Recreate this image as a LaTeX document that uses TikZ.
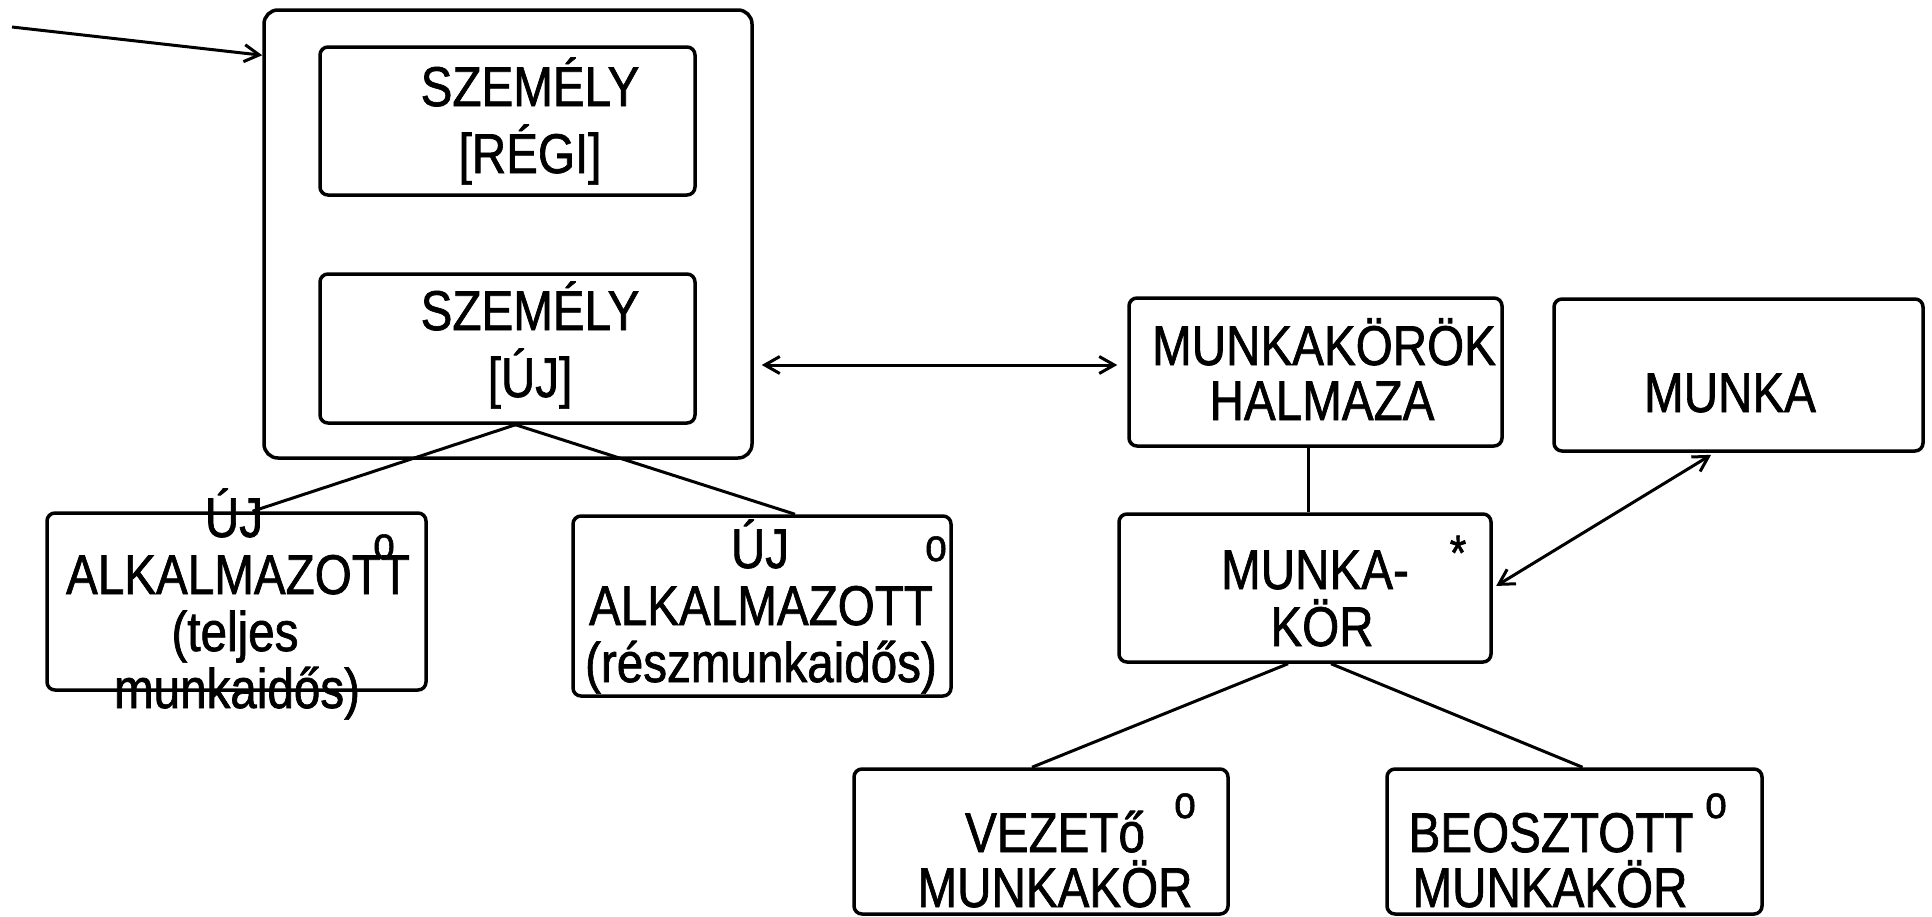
\documentclass[tikz,border=0pt]{standalone}
\usepackage{fontspec}
\setmainfont{Liberation Sans}[FakeStretch=0.85,FakeBold=1.2]
\usetikzlibrary{arrows.meta,calc}
\begin{document}
\begin{tikzpicture}[x=1pt,y=-1pt,
  box/.style={draw, line width=3.5pt, rounded corners=8pt, inner sep=0pt},
  txt/.style={font=\fontsize{56}{58}\selectfont, anchor=base, inner sep=0pt},
  supo/.style={font=\fontsize{46}{46}\selectfont, anchor=base, inner sep=0pt},
  conn/.style={line width=3pt},
  arr/.style={conn, -{Straight Barb[length=15pt,width=17pt]}},
  darr/.style={conn, {Straight Barb[length=15pt,width=17pt]}-{Straight Barb[length=15pt,width=17pt]}}]
\useasboundingbox (0,0) rectangle (1932,916);
% boxes
\node[box, rounded corners=14pt, minimum width=488pt, minimum height=448pt] (outer) at (508,234) {};
\node[box, minimum width=375pt, minimum height=148pt] (regi) at (507.5,121) {};
\node[box, minimum width=375pt, minimum height=149pt] (uj) at (507.5,348.5) {};
\node[box, minimum width=373pt, minimum height=148pt] (halm) at (1315.5,372) {};
\node[box, minimum width=369pt, minimum height=152pt] (munka) at (1738.5,375) {};
\node[box, minimum width=372pt, minimum height=148pt] (mk) at (1305,588) {};
\node[box, minimum width=374pt, minimum height=145pt] (vez) at (1041,841.5) {};
\node[box, minimum width=375pt, minimum height=145pt] (beo) at (1574.5,841.5) {};
\node[box, minimum width=379pt, minimum height=177pt] (ujt) at (236.5,601.5) {};
\node[box, minimum width=378pt, minimum height=180pt] (ujr) at (762,606) {};
% texts
\node[txt] (t1a) at (530,106) {SZEMÉLY};
\node[txt] (t1b) at (530,173) {[RÉGI]};
\node[txt] (t2a) at (530,330) {SZEMÉLY};
\node[txt] (t2b) at (530,397) {[ÚJ]};
\node[txt] (t3a) at (1324,365) {MUNKAKÖRÖK};
\node[txt] (t3b) at (1322,420) {HALMAZA};
\node[txt] (t4) at (1730,412) {MUNKA};
\node[txt] (t5a) at (1315,589) {MUNKA-};
\node[txt] (t5b) at (1322,646) {KÖR};
\node[font=\fontsize{50}{50}\selectfont, anchor=base, inner sep=0pt] (t5s) at (1458,570) {*};
\node[txt] (t6a) at (1055,852) {VEZETő};
\node[txt] (t6b) at (1055,907) {MUNKAKÖR};
\node[supo] (t6s) at (1185,818) {o};
\node[txt] (t7a) at (1551,852) {BEOSZTOTT};
\node[txt] (t7b) at (1550,907) {MUNKAKÖR};
\node[supo] (t7s) at (1716,818) {o};
\node[txt] (t8a) at (234,537) {ÚJ};
\node[txt] (t8b) at (238,594) {ALKALMAZOTT};
\node[txt] (t8c) at (235,651) {(teljes};
\node[txt] (t8d) at (237,708) {munkaidős)};
\node[supo] (t8s) at (384,559) {o};
\node[txt] (t9a) at (760,568) {ÚJ};
\node[txt] (t9b) at (761,625) {ALKALMAZOTT};
\node[txt] (t9c) at (761,682) {(részmunkaidős)};
\node[supo] (t9s) at (936,561) {o};
% connectors
\coordinate (src) at (12,27);
\draw[arr] (src) -- ([yshift=-47pt]outer.north west);
\coordinate (h1) at ([yshift=7pt]halm.west);
\draw[darr, shorten <=8pt, shorten >=10pt] (h1 -| outer.east) -- (h1);
\draw[darr, shorten <=4pt, shorten >=4pt] (mk.east) -- ([xshift=-24pt]munka.south);
\coordinate (mkn) at ([xshift=3pt]mk.north);
\draw[conn] (mkn) -- (mkn |- halm.south);
\draw[conn] ([xshift=-17pt]mk.south) -- ([xshift=-9pt]vez.north);
\draw[conn] ([xshift=26pt]mk.south) -- ([xshift=8pt]beo.north);
\draw[conn] ([xshift=8pt]uj.south) -- ([xshift=16pt]ujt.north);
\draw[conn] ([xshift=8pt]uj.south) -- ([xshift=33pt]ujr.north);
\end{tikzpicture}
\end{document}
